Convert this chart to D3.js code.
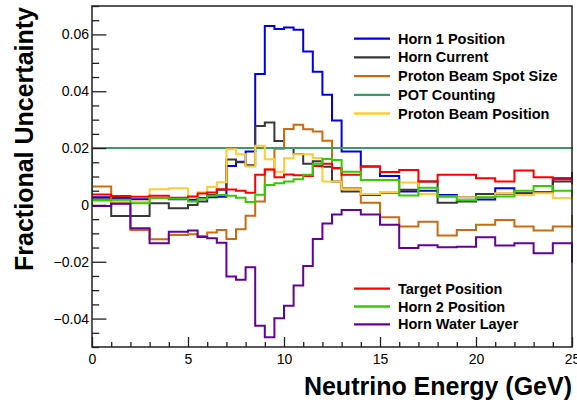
<!DOCTYPE html>
<html>
<head>
<meta charset="utf-8">
<script src="https://cdn.jsdelivr.net/npm/d3@7"></script>
<style>
  html, body { margin: 0; padding: 0; background: #fff; }
  svg { display: block; }
  text { font-family: "Liberation Sans", Arial, Helvetica, sans-serif; }
</style>
</head>
<body>
<svg id="chart" width="577" height="405"></svg>
<script>
// ---- Data ----
// variable bin edges (GeV); last bin (25-26) lies beyond the drawn axis range
const binEdges = [0,1,2,3,4,5,5.5,6,6.5,7,7.5,8,8.5,9,9.5,10,10.5,11,11.5,12,12.5,13,14,15,16,17,18,19,20,21,22,23,24,25,26];

const horn1Position = [0.0027,0.0024,0.0020,0.0024,0.0020,0.0018,0.0024,0.0027,0.0029,0.0137,0.0152,0.0188,0.0461,0.0630,0.0619,0.0624,0.0616,0.0540,0.0469,0.0388,0.0297,0.0188,0.0135,0.0102,0.0047,0.0050,0.0035,0.0027,0.0019,0.0059,0.0040,0.0045,0.0094,0.0112];
const hornCurrent = [0.0020,-0.0039,-0.0039,0.0006,-0.0012,0.0000,0.0012,0.0035,0.0053,0.0160,0.0150,0.0140,0.0278,0.0290,0.0225,0.0200,0.0179,0.0145,0.0154,0.0134,0.0082,0.0047,0.0035,0.0043,0.0053,0.0082,0.0008,0.0012,0.0038,0.0039,0.0041,0.0043,0.0082,0.0082];
const protonBeamSpotSize = [0.0065,0.0006,-0.0088,-0.0121,-0.0106,-0.0103,-0.0109,-0.0097,-0.0088,-0.0120,-0.0086,-0.0038,0.0012,0.0125,0.0198,0.0267,0.0282,0.0266,0.0258,0.0226,0.0128,0.0059,0.0008,-0.0043,-0.0076,-0.0059,-0.0108,-0.0088,-0.0070,-0.0053,-0.0076,-0.0090,-0.0076,-0.0039];
const potCounting = [0.02,0.02,0.02,0.02,0.02,0.02,0.02,0.02,0.02,0.02,0.02,0.02,0.02,0.02,0.02,0.02,0.02,0.02,0.02,0.02,0.02,0.02,0.02,0.02,0.02,0.02,0.02,0.02,0.02,0.02,0.02,0.02,0.02,0.02];
const protonBeamPosition = [0.0015,0.0013,0.0012,0.0055,0.0059,0.0029,0.0045,0.0063,0.0080,0.0196,0.0178,0.0135,0.0208,0.0161,0.0117,0.0164,0.0178,0.0178,0.0165,0.0082,0.0082,0.0055,0.0038,0.0045,0.0079,0.0038,0.0030,0.0027,0.0029,0.0041,0.0035,0.0041,0.0024,0.0045];
const targetPosition = [0.0037,0.0031,0.0029,0.0032,0.0025,0.0030,0.0040,0.0044,0.0055,0.0054,0.0050,0.0043,0.0106,0.0125,0.0097,0.0107,0.0104,0.0102,0.0137,0.0145,0.0130,0.0106,0.0135,0.0116,0.0123,0.0082,0.0106,0.0106,0.0094,0.0082,0.0121,0.0097,0.0090,0.0075];
const horn2Position = [0.0016,0.0018,0.0006,0.0024,0.0022,0.0012,0.0022,0.0032,0.0035,0.0032,0.0025,0.0010,0.0036,0.0070,0.0076,0.0082,0.0090,0.0106,0.0145,0.0162,0.0158,0.0117,0.0088,0.0088,0.0033,0.0060,0.0029,0.0016,0.0027,0.0030,0.0050,0.0067,0.0050,0.0032];
const hornWaterLayer = [-0.0004,0.0004,-0.0082,-0.0135,-0.0094,-0.0090,-0.0113,-0.0117,-0.0133,-0.0252,-0.0263,-0.0219,-0.0425,-0.0466,-0.0399,-0.0355,-0.0284,-0.0215,-0.0120,-0.0065,-0.0034,-0.0018,-0.0034,-0.0070,-0.0152,-0.0142,-0.0149,-0.0147,-0.0114,-0.0143,-0.0135,-0.0170,-0.0135,-0.0200];

const seriesNames = ["Horn 1 Position","Horn Current","Proton Beam Spot Size","POT Counting","Proton Beam Position","Target Position","Horn 2 Position","Horn Water Layer"];
const seriesValues = [horn1Position, hornCurrent, protonBeamSpotSize, potCounting, protonBeamPosition, targetPosition, horn2Position, hornWaterLayer];
const seriesColors = ["#0000e6","#383838","#cc6a10","#3a9a6a","#ffcc33","#ff0000","#33cc00","#660099"];
const legendTop = ["Horn 1 Position","Horn Current","Proton Beam Spot Size","POT Counting","Proton Beam Position"];
const legendBottom = ["Target Position","Horn 2 Position","Horn Water Layer"];

const xMajorTicks = [0,5,10,15,20,25];
const xTickLabels = ["0","5","10","15","20","25"];
const yMajorTicks = [-0.04,-0.02,0,0.02,0.04,0.06];
const yTickLabels = ["\u22120.04","\u22120.02","0","0.02","0.04","0.06"];
const xTitle = "Neutrino Energy (GeV)";
const yTitle = "Fractional Uncertainty";

// ---- Layout ----
const L = 92, R = 572, T = 6, B = 347;
const svg = d3.select("#chart");
const x = d3.scaleLinear().domain([0, 25]).range([L, R]);
const y = d3.scaleLinear().domain([-0.05, 0.07]).range([B, T]);

svg.append("defs").append("clipPath").attr("id", "plotclip")
  .append("rect").attr("x", L).attr("y", T).attr("width", R - L + 1).attr("height", B - T);

// histograms (step lines)
function stepPoints(vals) {
  const pts = [[binEdges[0], 0]];
  vals.forEach((v, i) => { pts.push([binEdges[i], v]); pts.push([binEdges[i + 1], v]); });
  return pts;
}
const line = d3.line().x(d => x(d[0])).y(d => y(d[1]));
const gHist = svg.append("g").attr("clip-path", "url(#plotclip)");
seriesValues.forEach((vals, k) => {
  gHist.append("path")
    .attr("d", line(stepPoints(vals)))
    .attr("fill", "none")
    .attr("stroke", seriesColors[k])
    .attr("stroke-width", 2)
    .attr("stroke-linejoin", "miter");
});

// axes: ticks inside the frame
const axisColor = "#222";
function styleAxis(g) {
  g.select(".domain").remove();
  g.selectAll("line").attr("stroke", axisColor).attr("stroke-width", 1.3);
}
const yMinor = y.ticks(24).filter(t => !yMajorTicks.some(m => Math.abs(m - t) < 1e-9));
const xMinor = x.ticks(25).filter(t => !xMajorTicks.includes(t));

svg.append("g").attr("transform", `translate(${L},0)`)
  .call(d3.axisRight(y).tickValues(yMajorTicks).tickSize(14.4).tickFormat("")).call(styleAxis);
svg.append("g").attr("transform", `translate(${L},0)`)
  .call(d3.axisRight(y).tickValues(yMinor).tickSize(7.2).tickFormat("")).call(styleAxis);
svg.append("g").attr("transform", `translate(0,${B})`)
  .call(d3.axisTop(x).tickValues(xMajorTicks).tickSize(10).tickFormat("")).call(styleAxis);
svg.append("g").attr("transform", `translate(0,${B})`)
  .call(d3.axisTop(x).tickValues(xMinor).tickSize(5).tickFormat("")).call(styleAxis);

// tick labels
const gyl = svg.append("g").attr("transform", `translate(${L},0)`)
  .call(d3.axisLeft(y).tickValues(yMajorTicks).tickSize(0).tickPadding(3).tickFormat((d, i) => yTickLabels[i]));
gyl.select(".domain").remove();
gyl.selectAll("text").attr("font-size", 14).attr("fill", "#000").attr("font-family", "Liberation Sans, Arial, sans-serif");
const gxl = svg.append("g").attr("transform", `translate(0,${B})`)
  .call(d3.axisBottom(x).tickValues(xMajorTicks).tickSize(0).tickPadding(7).tickFormat((d, i) => xTickLabels[i]));
gxl.select(".domain").remove();
gxl.selectAll("text").attr("font-size", 14).attr("fill", "#000").attr("font-family", "Liberation Sans, Arial, sans-serif");

// frame
svg.append("rect").attr("x", L).attr("y", T).attr("width", R - L).attr("height", B - T)
  .attr("fill", "none").attr("stroke", axisColor).attr("stroke-width", 1.5);

// axis titles
svg.append("text").attr("x", R).attr("y", 395).attr("text-anchor", "end")
  .attr("font-size", 25).attr("font-weight", "bold").attr("fill", "#000").text(xTitle);
svg.append("text").attr("transform", "translate(33,7) rotate(-90)").attr("text-anchor", "end")
  .attr("font-size", 25).attr("font-weight", "bold").attr("fill", "#000").text(yTitle);

// legends
function drawLegend(names, y0, step) {
  names.forEach((n, i) => {
    const k = seriesNames.indexOf(n);
    const yy = y0 + i * step;
    svg.append("line").attr("x1", 354).attr("x2", 390).attr("y1", yy).attr("y2", yy)
      .attr("stroke", seriesColors[k]).attr("stroke-width", 2.3);
    svg.append("text").attr("x", 398).attr("y", yy + 5).attr("font-size", 14.5)
      .attr("font-weight", "bold").attr("fill", "#000").text(n);
  });
}
drawLegend(legendTop, 38.7, 18.7);
drawLegend(legendBottom, 288.6, 17.9);
</script>
</body>
</html>
